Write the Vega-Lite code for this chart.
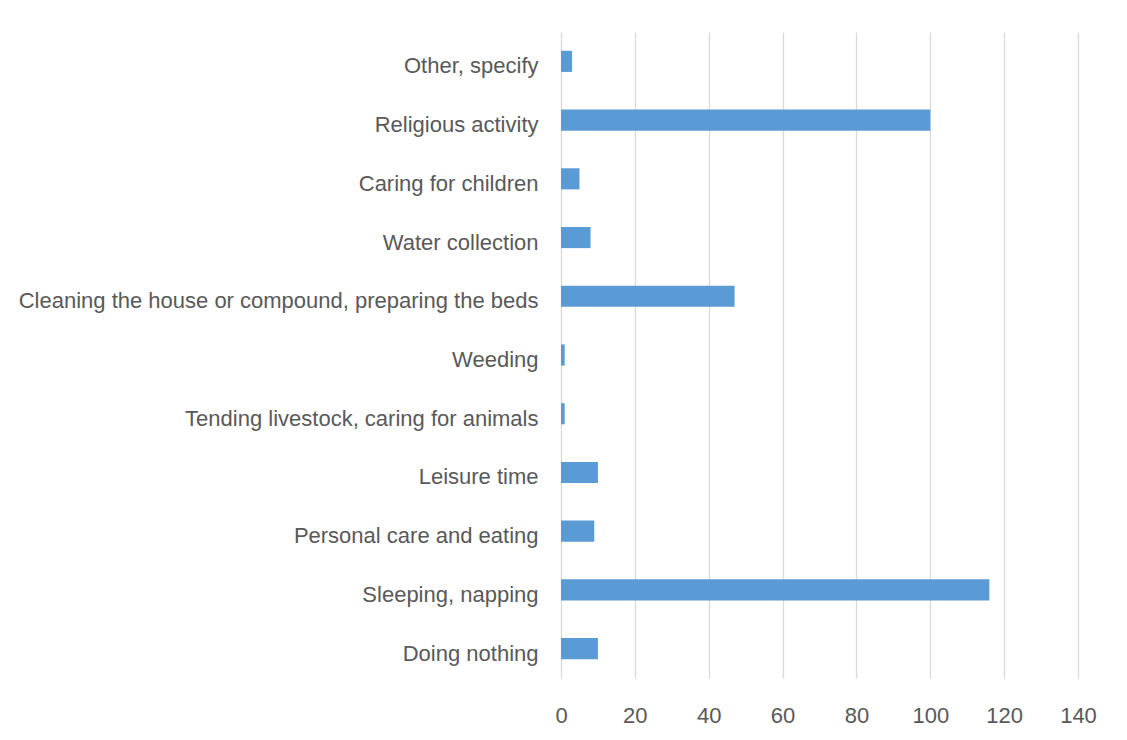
{
  "$schema": "https://vega.github.io/schema/vega-lite/v6.json",
  "width": 517,
  "height": 646,
  "autosize": "none",
  "padding": {"left": 561, "top": 32, "right": 49, "bottom": 62},
  "background": "white",
  "data": {"values": [
    {"activity": "Other, specify", "value": 3},
    {"activity": "Religious activity", "value": 100},
    {"activity": "Caring for children", "value": 5},
    {"activity": "Water collection", "value": 8},
    {"activity": "Cleaning the house or compound, preparing the beds", "value": 47},
    {"activity": "Weeding", "value": 1},
    {"activity": "Tending livestock, caring for animals", "value": 1},
    {"activity": "Leisure time", "value": 10},
    {"activity": "Personal care and eating", "value": 9},
    {"activity": "Sleeping, napping", "value": 116},
    {"activity": "Doing nothing", "value": 10}
  ]},
  "mark": {"type": "bar", "color": "#5B9BD5"},
  "encoding": {
    "y": {
      "field": "activity", "type": "nominal", "sort": null,
      "scale": {"paddingInner": 0.64, "paddingOuter": 0.32},
      "axis": {"title": null, "ticks": false, "domain": false, "grid": false,
               "labelPadding": 23, "labelOffset": 5, "labelFontSize": 22, "labelColor": "#595959",
               "labelFont": "Liberation Sans", "labelLimit": 600}
    },
    "x": {
      "field": "value", "type": "quantitative",
      "scale": {"domain": [0, 140], "nice": false},
      "axis": {"title": null, "values": [0, 20, 40, 60, 80, 100, 120, 140],
               "ticks": false, "domain": false, "grid": true, "labelFlush": false,
               "gridColor": "#d9d9d9", "gridWidth": 1.3,
               "labelPadding": 27, "labelFontSize": 22, "labelColor": "#595959",
               "labelFont": "Liberation Sans"}
    }
  },
  "config": {"view": {"stroke": null}}
}
